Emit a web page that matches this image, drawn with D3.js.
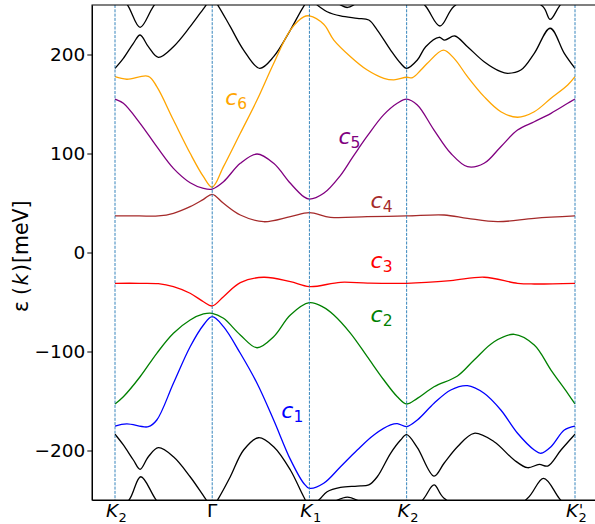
<!DOCTYPE html>
<html>
<head>
<meta charset="utf-8">
<script src="https://cdn.jsdelivr.net/npm/d3@7"></script>
<style>
  body { margin: 0; background: #fff; }
  svg { display: block; font-family: 'DejaVu Sans', sans-serif; }
</style>
</head>
<body>
<div id="chart"></div>
<script>
// high symmetry path K2 - Γ - K1 - K2 - K2'
const kTicks = [0, 1, 2, 3, 4.732]
const kSymbols = ['K', 'Γ', 'K', 'K', 'K']
const kSubs = ['2', '', '1', '2', '2']
const kPrimes = ['', '', '', '', "'"]
const yTicks = [-200, -100, 0, 100, 200]

// bands, [k, energy in meV]
const bandTop2 = [[0, 268], [0.137, 248.7], [0.258, 227.5], [0.395, 248.7], [0.6, 275], [1.0, 300], [1.5, 290], [2.0, 270], [2.286, 252], [2.392, 247.5], [2.492, 252], [2.75, 262], [3.0, 268], [3.196, 248.7], [3.343, 228.8], [3.488, 248.7], [3.9, 270], [4.399, 248.7], [4.477, 235.5], [4.57, 248.7], [4.732, 268]]
const bandTop1 = [[0, 186], [0.086, 196.1], [0.189, 211.3], [0.258, 219.7], [0.343, 207.9], [0.446, 197.1], [0.601, 207.9], [0.773, 228.1], [0.928, 248.7], [1.0, 258], [1.065, 248.7], [1.186, 228.1], [1.323, 204.5], [1.488, 186], [1.632, 197.8], [1.804, 224.7], [1.941, 248.7], [2.0, 256], [2.096, 248.7], [2.182, 243.2], [2.32, 238.9], [2.492, 236.5], [2.611, 234.8], [2.698, 224.7], [2.835, 204.5], [2.938, 191.1], [3.0, 186], [3.11, 194.4], [3.196, 207.9], [3.333, 217.4], [3.392, 214.6], [3.495, 218.7], [3.626, 207.9], [3.797, 192.7], [3.969, 182.6], [4.038, 181], [4.175, 184.3], [4.313, 201.2], [4.477, 226.5], [4.622, 201.2], [4.732, 186]]
const c6 = [[0, 177.6], [0.121, 175], [0.343, 178], [0.43, 167.5], [0.601, 133.8], [0.773, 100.2], [0.91, 76.6], [1.0, 66], [1.116, 86.7], [1.289, 120.4], [1.461, 154], [1.632, 191], [1.804, 224.7], [1.941, 238], [2.0, 239], [2.147, 230.5], [2.251, 214.6], [2.423, 197.8], [2.595, 184.3], [2.766, 176], [2.869, 174.4], [3.0, 177], [3.06, 176.6], [3.144, 184], [3.213, 191.1], [3.378, 204.5], [3.488, 196.1], [3.626, 177.6], [3.797, 157.4], [3.969, 142.2], [4.141, 136.6], [4.313, 142.2], [4.485, 155.8], [4.657, 169.2], [4.732, 177.6]]
const c5 = [[0, 155], [0.086, 150.7], [0.258, 130.5], [0.43, 106.9], [0.601, 85], [0.773, 70.5], [0.91, 64.8], [1.0, 64.1], [1.116, 71.5], [1.289, 90.1], [1.461, 99.5], [1.632, 90.1], [1.804, 69.9], [1.941, 56.4], [2.0, 54], [2.147, 59.8], [2.32, 78], [2.423, 93], [2.505, 105], [2.598, 118], [2.763, 139], [2.907, 151], [3.0, 155], [3.11, 149], [3.282, 123.7], [3.454, 100.2], [3.626, 86.7], [3.797, 90.1], [3.969, 106.9], [4.141, 123.7], [4.313, 132.1], [4.485, 140.6], [4.657, 150.7], [4.732, 155]]
const c4 = [[0, 36.9], [0.25, 36.9], [0.446, 36.9], [0.601, 39.6], [0.773, 46.3], [0.91, 53.7], [1.0, 58.8], [1.116, 49.7], [1.289, 37.9], [1.529, 31.1], [1.804, 36.2], [2.0, 40.2], [2.216, 35.5], [2.595, 36.2], [3.0, 36.9], [3.385, 37.9], [3.626, 34.5], [3.935, 31.1], [4.313, 34.5], [4.732, 36.9]]
const c3 = [[0, -31.1], [0.25, -31.1], [0.446, -31.5], [0.601, -34.5], [0.773, -41.2], [0.91, -49.7], [1.0, -54], [1.116, -44.6], [1.289, -30.5], [1.529, -25], [1.804, -29.5], [2.0, -34.5], [2.32, -30.1], [2.6, -31], [3.0, -31.1], [3.454, -28.4], [3.797, -25], [4.141, -31.1], [4.313, -31.8], [4.732, -31.1]]
const c2 = [[0, -153], [0.086, -145.7], [0.258, -125.5], [0.43, -101.8], [0.601, -81.6], [0.773, -68.2], [0.91, -62.1], [1.0, -61.4], [1.116, -66.5], [1.289, -83.3], [1.461, -96.2], [1.632, -85], [1.804, -63.1], [2.0, -50.7], [2.147, -55.4], [2.251, -63.1], [2.423, -81.6], [2.595, -105.2], [2.766, -128.8], [2.904, -145.7], [3.0, -153], [3.11, -147.3], [3.282, -135.6], [3.523, -124.7], [3.694, -108.6], [3.9, -90.1], [4.106, -82.6], [4.313, -93.4], [4.485, -118.7], [4.657, -142.2], [4.732, -153]]
const c1 = [[0, -175.3], [0.121, -173.2], [0.343, -176], [0.43, -169.2], [0.601, -132.1], [0.773, -95.2], [0.91, -73.2], [1.0, -64.8], [1.116, -74.9], [1.289, -101.8], [1.461, -132.1], [1.632, -169.2], [1.804, -209], [1.941, -233.1], [2.0, -238.2], [2.147, -233.1], [2.32, -216.4], [2.492, -199.5], [2.663, -184.3], [2.835, -174.2], [2.904, -172.8], [3.0, -175.8], [3.11, -169.2], [3.282, -152.3], [3.454, -138.9], [3.626, -134.5], [3.797, -142.2], [3.969, -159.1], [4.141, -182.6], [4.313, -199.5], [4.381, -202.8], [4.485, -196.2], [4.622, -179.3], [4.732, -175.3]]
const bandBot1 = [[0, -183.6], [0.086, -194.4], [0.189, -209.6], [0.258, -219], [0.343, -206.3], [0.446, -197.2], [0.601, -206.3], [0.773, -226.5], [0.928, -248.3], [1.0, -258], [1.065, -248.3], [1.186, -226.5], [1.323, -199.5], [1.477, -187.1], [1.632, -196.2], [1.804, -219.7], [1.941, -246.7], [2.0, -256], [2.096, -250], [2.182, -241.6], [2.32, -237.2], [2.492, -235.9], [2.611, -234.8], [2.698, -226.5], [2.835, -202.8], [2.938, -189.4], [3.0, -184], [3.11, -197], [3.282, -225.8], [3.385, -212.9], [3.523, -196.2], [3.694, -182.6], [3.9, -191.1], [4.106, -209.6], [4.244, -217.4], [4.364, -214], [4.451, -215.7], [4.588, -199.5], [4.732, -183.6]]
const bandBot2 = [[0, -268], [0.155, -248.3], [0.265, -226.5], [0.412, -248.3], [0.6, -275], [1.0, -300], [1.5, -290], [2.0, -270], [2.251, -252], [2.39, -247], [2.53, -252], [2.75, -262], [3.0, -268], [3.178, -248.3], [3.282, -234.8], [3.385, -248.3], [3.9, -270], [4.244, -248.3], [4.409, -228.1], [4.57, -248.3], [4.732, -268]]

const bands = [
  { pts: bandTop2, color: 'black' },
  { pts: bandTop1, color: 'black' },
  { pts: bandBot1, color: 'black' },
  { pts: bandBot2, color: 'black' },
  { pts: c1, color: 'blue' },
  { pts: c2, color: 'green' },
  { pts: c3, color: 'red' },
  { pts: c4, color: 'brown' },
  { pts: c5, color: 'purple' },
  { pts: c6, color: 'orange' }
]

// band labels: [k, energy, index, colour]
const bandLabels = [
  [1.711, -167, '1', 'blue'],
  [2.629, -70, '2', 'green'],
  [2.629, -15.5, '3', 'red'],
  [2.629, 45, '4', 'brown'],
  [2.299, 110, '5', 'purple'],
  [1.134, 149, '6', 'orange']
]

const W = 595
const H = 524
const kEnd = kTicks[kTicks.length - 1]

const x = d3.scaleLinear().domain([-0.05 * kEnd, 1.05 * kEnd]).range([92, 598])
const y = d3.scaleLinear().domain([-250, 250]).range([500, 5])

const svg = d3.select('#chart').append('svg').attr('width', W).attr('height', H)

svg.append('clipPath').attr('id', 'clip')
  .append('rect')
  .attr('x', x.range()[0]).attr('y', y.range()[1])
  .attr('width', x.range()[1] - x.range()[0])
  .attr('height', y.range()[0] - y.range()[1])

const plot = svg.append('g').attr('clip-path', 'url(#clip)')

const line = d3.line()
  .x(d => x(d[0]))
  .y(d => y(d[1]))
  .curve(d3.curveCatmullRom.alpha(0.5))

plot.selectAll('path.band')
  .data(bands)
  .enter()
  .append('path')
  .attr('class', 'band')
  .attr('d', d => line(d.pts))
  .style('fill', 'none')
  .style('stroke', d => d.color)
  .style('stroke-width', 1.3)

// dashed lines at the high symmetry points
plot.selectAll('line.vl')
  .data(kTicks)
  .enter()
  .append('line')
  .attr('class', 'vl')
  .attr('x1', d => x(d)).attr('x2', d => x(d))
  .attr('y1', y(250)).attr('y2', y(-250))
  .style('stroke', '#1f77b4')
  .style('stroke-width', 0.9)
  .style('stroke-dasharray', '3,1.3')

// band labels c_n
const lab = svg.selectAll('text.clab')
  .data(bandLabels)
  .enter()
  .append('text')
  .attr('class', 'clab')
  .attr('x', d => x(d[0]))
  .attr('y', d => y(d[1]))
  .style('fill', d => d[3])
  .style('font-size', '22px')
lab.append('tspan').style('font-style', 'italic').text('c')
lab.append('tspan').attr('dy', 4).style('font-size', '15.5px').text(d => d[2])

// axes
const yAxis = d3.axisLeft(y).tickValues(yTicks).tickSize(4.7).tickSizeOuter(0).tickPadding(2)
const gy = svg.append('g').attr('transform', `translate(${x.range()[0]},0)`).call(yAxis)
gy.selectAll('text').style('font-size', '18.5px').style('font-family', 'DejaVu Sans').style('fill', 'black')

const xAxis = d3.axisBottom(x).tickValues(kTicks).tickFormat('').tickSize(0).tickSizeOuter(0)
svg.append('g').attr('transform', `translate(0,${y.range()[0]})`).call(xAxis)
svg.selectAll('.domain, .tick line').style('stroke', 'black').style('stroke-width', 1)

// top and right spines
svg.append('rect')
  .attr('x', x.range()[0]).attr('y', y.range()[1])
  .attr('width', x.range()[1] - x.range()[0])
  .attr('height', y.range()[0] - y.range()[1])
  .style('fill', 'none').style('stroke', 'black').style('stroke-width', 1)

// x tick labels (K with subscripts, Γ)
const kg = svg.selectAll('g.klab')
  .data(kTicks)
  .enter()
  .append('g')
  .attr('class', 'klab')
  .attr('transform', d => `translate(${x(d)},517)`)
kg.append('text')
  .attr('x', (d, i) => kSubs[i] ? -3 : 0)
  .attr('text-anchor', 'middle')
  .style('font-size', '18.5px')
  .style('font-style', (d, i) => kSymbols[i] === 'K' ? 'italic' : 'normal')
  .text((d, i) => kSymbols[i])
kg.append('text')
  .attr('x', 3.5).attr('y', 5)
  .style('font-size', '13px')
  .text((d, i) => kSubs[i])
kg.append('text')
  .attr('x', 4).attr('y', -1)
  .style('font-size', '15px')
  .style('font-style', 'italic')
  .style('fill', 'black')
  .text((d, i) => kPrimes[i])

// y label
const yl = svg.append('text')
  .attr('transform', 'translate(28,312) rotate(-90)')
  .style('font-size', '20.5px')
yl.append('tspan').text('ε')
yl.append('tspan').attr('dx', 6).text('(')
yl.append('tspan').attr('dx', 1.5).style('font-style', 'italic').text('k')
yl.append('tspan').attr('dx', 1.5).text(')')
yl.append('tspan').attr('dx', 1).text('[meV]')
</script>
</body>
</html>
